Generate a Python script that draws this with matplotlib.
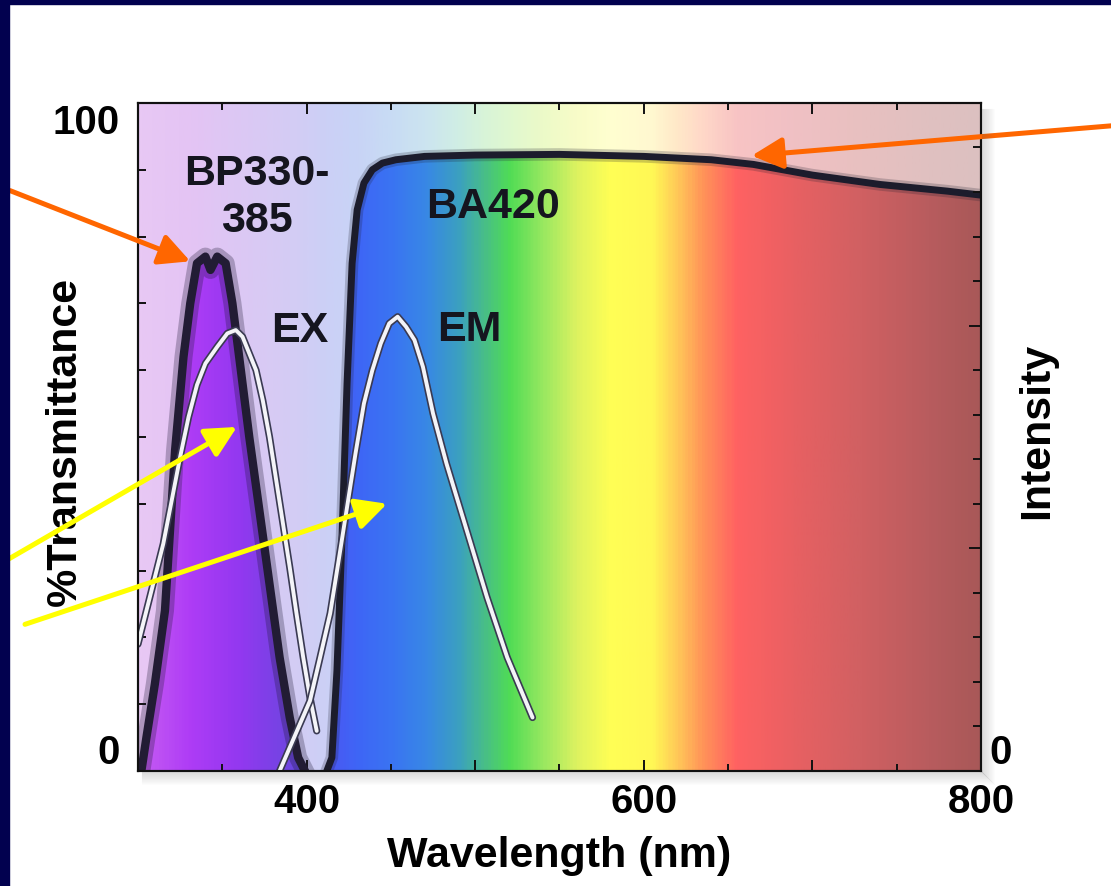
import numpy as np
import matplotlib.pyplot as plt
import matplotlib.patheffects as pe
from matplotlib.colors import LinearSegmentedColormap
from matplotlib.patches import Polygon, Rectangle
from matplotlib.lines import Line2D

plt.rcParams['font.family'] = ['Liberation Sans', 'DejaVu Sans']
plt.rcParams['font.weight'] = 'bold'

# spectrum colours behind the curves (saturated under the filters, washed out above)
spec_nm = [300, 330, 360, 390, 410, 430, 450, 470, 490, 505, 520, 540, 560,
           580, 605, 620, 635, 655, 690, 730, 770, 800]
spec_rich = ['#C65CF2', '#AE3CF6', '#9238F0', '#6E46E0', '#4C55F2', '#3E66F6',
             '#3A74F2', '#3887E6', '#3BA0C0', '#48BE88', '#50DC55', '#98E860',
             '#DDF260', '#FFFF55', '#FFF855', '#FFC858', '#FF9458', '#FF6262',
             '#E86062', '#D06062', '#B85C5E', '#A85858']
spec_pale = ['#E8C8F4', '#E4C4F4', '#DCC8F4', '#D4CCF4', '#CCD0F6', '#C8D4F6',
             '#C8DCF4', '#CCE4F0', '#D0EEE4', '#D8F4D8', '#E0F8D0', '#ECFAC8',
             '#F8FCC8', '#FFFFD0', '#FFF8D0', '#FFE8C8', '#FFD8C8', '#F8C4C4',
             '#F0C0C4', '#E8C0C0', '#E0C0C0', '#DCC0C0']

# BP330-385 excitation filter (% transmittance)
bp_nm = [302, 305, 310, 316, 322, 327, 331, 335, 340, 343, 347, 352, 356, 360,
         366, 372, 378, 384, 390, 395, 399]
bp_val = [0, 5, 13, 24, 48, 62, 70, 76, 77, 75, 77, 76, 70, 62, 50, 39, 28, 17,
          8, 2, 0]

# BA420 barrier filter
ba_nm = [412, 415, 418, 421, 424, 427, 430, 434, 439, 445, 453, 470, 500, 550,
         600, 640, 665, 700, 740, 780, 800]
ba_val = [0, 2, 15, 35, 58, 76, 84, 88, 90, 91, 91.5, 92, 92.2, 92.3, 92.0,
          91.5, 90.8, 89.2, 87.8, 86.8, 86.2]

# excitation / emission spectra
ex_nm = [300, 305, 310, 315, 320, 325, 330, 335, 340, 347, 353, 358, 362, 366,
         370, 374, 378, 382, 386, 390, 394, 398, 402, 406]
ex_val = [19, 24, 29, 34, 40.5, 47, 53, 57.8, 61, 63.5, 65.5, 66, 65, 62.5, 60,
          55.5, 50, 43.5, 37, 30.5, 23.6, 17, 11, 6]
em_nm = [384, 390, 396, 402, 408, 414, 419, 424, 429, 434, 439, 444, 449, 454,
         459, 464, 469, 475, 483, 495, 507, 519, 534]
em_val = [0, 3.5, 7, 10.5, 17, 23.6, 31.5, 39.5, 47.5, 55, 60, 64, 67, 68, 66.5,
          64.5, 60.5, 53.5, 46, 36, 26, 17, 8]

fig = plt.figure(figsize=(11.11, 8.87), dpi=100)
fig.patch.set_facecolor('white')
ax = fig.add_axes([0.1242, 0.1297, 0.7588, 0.7531])
ax.set_xlim(300, 800)
ax.set_ylim(0, 100)


def spectrum_cmap(colors):
    pos = [(n - spec_nm[0]) / (spec_nm[-1] - spec_nm[0]) for n in spec_nm]
    return LinearSegmentedColormap.from_list('spec', list(zip(pos, colors)))


wl = np.linspace(300, 800, 600)[None, :]
ax.imshow(wl, cmap=spectrum_cmap(spec_pale), extent=[300, 800, 0, 100],
          aspect='auto', vmin=300, vmax=800, zorder=0)

rich = spectrum_cmap(spec_rich)
for nm, val in [(bp_nm, bp_val), (ba_nm, ba_val)]:
    poly = Polygon(list(zip(nm, val)) + [(nm[-1], 0), (nm[0], 0)],
                   closed=True, fill=False, lw=0)
    ax.add_patch(poly)
    im = ax.imshow(wl, cmap=rich, extent=[300, 800, 0, 100], aspect='auto',
                   vmin=300, vmax=800, zorder=1)
    im.set_clip_path(poly)

# filter outlines
ax.plot(bp_nm, bp_val, color='#1a1430', lw=13, alpha=0.28, zorder=2,
        solid_joinstyle='round')
ax.plot(bp_nm, bp_val, color='#221c34', lw=6, zorder=2, solid_joinstyle='round')
ax.plot(ba_nm, ba_val, color='#1c1c2c', lw=9, alpha=0.22, zorder=2)
ax.plot(ba_nm, ba_val, color='#1c1c2c', lw=5, zorder=2, solid_joinstyle='round')

# spectra: white lines with dark edge
edge = [pe.Stroke(linewidth=5.2, foreground='#3a3a52'), pe.Normal()]
for nm, val in [(ex_nm, ex_val), (em_nm, em_val)]:
    ax.plot(nm, val, color='#F4F4F8', lw=2.8, path_effects=edge, zorder=3,
            solid_joinstyle='round', solid_capstyle='round')

txt = dict(fontsize=31, fontweight='bold', color='#15151f', ha='center',
           va='center', zorder=4)
ax.text(370.6, 86, 'BP330-\n385', linespacing=1.2, **txt)
ax.text(510.6, 84.6, 'BA420', **txt)
ax.text(396, 66, 'EX', **txt)
ax.text(496.3, 66.2, 'EM', **txt)

# axes, ticks
ax.set_xticks(range(300, 801, 100))
ax.set_xticklabels(['', '400', '', '600', '', '800'])
ax.set_xticks(range(350, 800, 100), minor=True)
ax.tick_params(axis='x', which='both', direction='in', top=True, bottom=True,
               labelsize=29, pad=8, width=1.4, color='#111111')
ax.tick_params(axis='x', which='major', length=8)
ax.tick_params(axis='x', which='minor', length=5)
ax.set_yticks(range(0, 101, 10))
ax.set_yticklabels(['0'] + [''] * 9 + ['100'])
ax.tick_params(axis='y', direction='in', length=6, width=1.4, labelsize=29,
               pad=13, color='#111111')
ylabels = ax.get_yticklabels()
ylabels[0].set_va('bottom')
ylabels[-1].set_va('top')

ax2 = ax.twinx()
ax2.set_ylim(0, 15)
ax2.set_yticks([0, 5, 10, 15])
ax2.set_yticklabels(['0', '', '', ''])
ax2.set_yticks(range(0, 16), minor=True)
ax2.tick_params(axis='y', which='both', direction='in', width=1.4,
                labelsize=29, pad=6, color='#111111')
ax2.tick_params(axis='y', which='major', length=9)
ax2.tick_params(axis='y', which='minor', length=6)
ax2.get_yticklabels()[0].set_va('bottom')

for a in (ax, ax2):
    for s in a.spines.values():
        s.set_linewidth(1.5)
        s.set_color('#111111')

ax.set_xlabel('Wavelength (nm)', fontsize=31, fontweight='bold')
ax.xaxis.set_label_coords(0.5, -0.126)
ax.xaxis.label.set_va('center')
ax.set_ylabel('%Transmittance', fontsize=31, fontweight='bold')
ax.yaxis.set_label_coords(-0.087, 0.4955)
ax.yaxis.label.set_va('center')
ax2.set_ylabel('Intensity', fontsize=31, fontweight='bold', rotation=90)
ax2.yaxis.set_label_coords(1.066, 0.51)
ax2.yaxis.label.set_va('center')

# arrows pointing in from the slide
arrows = [((331, 76.3), (0.009, 0.784), '#FF6600'),
          ((664, 92.1), (1.0, 0.857), '#FF6600'),
          ((358.7, 51.5), (0.0, 0.363), '#FFFF00'),
          ((447.7, 40), (0.0225, 0.295), '#FFFF00')]
for tip, tail, col in arrows:
    ax2.annotate('', xy=tip, xycoords=ax.transData, xytext=tail,
                 textcoords='figure fraction', annotation_clip=False,
                 arrowprops=dict(arrowstyle='-|>,head_length=0.75,head_width=0.38',
                                 mutation_scale=25, lw=3.6, color=col,
                                 shrinkA=0, shrinkB=0), zorder=6)

# soft drop shadow under / right of the plot frame
x0, x1, y0, y1 = 0.1242, 0.883, 0.1297, 0.8828
for i in range(1, 14):
    a = 0.2 * (1 - i / 14)
    fig.add_artist(Line2D([x0 + 4 / 1111, x1 + i / 1111], [y0 - i / 887] * 2,
                          transform=fig.transFigure, color='#555555', alpha=a, lw=0.8))
    fig.add_artist(Line2D([x1 + i / 1111] * 2, [y0 - i / 887, y1 - 6 / 887],
                          transform=fig.transFigure, color='#555555', alpha=a, lw=0.8))

# navy slide border
fig.add_artist(Rectangle((0, 0), 9 / 1111, 1, transform=fig.transFigure,
                         color='#02014F', zorder=10))
fig.add_artist(Rectangle((0, 1 - 5 / 887), 1, 5 / 887, transform=fig.transFigure,
                         color='#02014F', zorder=10))

fig.savefig('out.png', dpi=100)
